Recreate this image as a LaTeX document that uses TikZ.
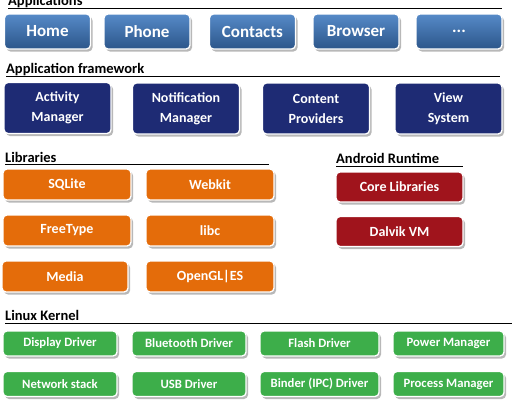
\documentclass[tikz,border=0pt]{standalone}
\usepackage{fontspec}
\setmainfont{Carlito}
\usepackage{xcolor}
\usepackage{tikz}
\usetikzlibrary{positioning, shadows}

\definecolor{appTop}{RGB}{86,138,200}
\definecolor{appBot}{RGB}{44,86,138}
\definecolor{fwkBlue}{RGB}{30,43,116}
\definecolor{libOrange}{RGB}{228,108,10}
\definecolor{rtRed}{RGB}{160,20,28}
\definecolor{kerGreen}{RGB}{61,174,74}

\begin{document}
\begin{tikzpicture}[
    x=1pt, y=-1pt,
    block/.style={rectangle, rounded corners=4pt, draw=white, line width=1.3pt, inner sep=0pt, align=center, text=white, font=\bfseries,
        drop shadow={shadow xshift=2pt, shadow yshift=-2.5pt, fill=black!35, opacity=0.8}},
    appbox/.style={block, top color=appTop, bottom color=appBot, minimum width=86pt, minimum height=35pt, font=\fontsize{17}{19}\selectfont\bfseries},
    fwkbox/.style={block, fill=fwkBlue, minimum width=107pt, minimum height=51pt, font=\fontsize{14}{20}\selectfont\bfseries},
    libbox/.style={block, fill=libOrange, minimum width=128pt, minimum height=31pt, font=\fontsize{14}{16}\selectfont\bfseries},
    rtbox/.style={block, fill=rtRed, minimum width=127pt, minimum height=30pt, font=\fontsize{14}{16}\selectfont\bfseries},
    kerbox/.style={block, fill=kerGreen, minimum width=114pt, minimum height=25pt, font=\fontsize{12.7}{14}\selectfont\bfseries},
    layer/.style={anchor=base west, inner sep=0pt, font=\fontsize{14.5}{16}\selectfont\bfseries},
    rule/.style={line width=0.8pt, black}
]
    \useasboundingbox (0,0) rectangle (516,408);
    % Applications
    \node[layer] (appsT) at (8,5) {Applications};
    \draw[rule] (8,8) -- (502,8);
    \node[appbox] (home) at (47.5,31.5) {Home};
    \node[appbox] (phone) at (147,31.5) {Phone};
    \node[appbox] (contacts) at (252.5,31.5) {Contacts};
    \node[appbox] (browser) at (356,31.5) {Browser};
    \node[appbox] (more) at (459,31.5) {...};
    % Application framework
    \node[layer] (fwkT) at (6,73) {Application framework};
    \draw[rule] (6,76) -- (500,76);
    \node[fwkbox] (activity) at (57.5,108) {Activity\\Manager};
    \node[fwkbox] (notif) at (186,108.5) {Notification\\Manager};
    \node[fwkbox] (content) at (316,108.5) {Content\\Providers};
    \node[fwkbox] (view) at (448.5,108.5) {View\\System};
    % Libraries
    \node[layer] (libT) at (5,162) {Libraries};
    \draw[rule] (5,164.5) -- (269,164.5);
    \node[libbox] (sqlite) at (67,184.5) {SQLite};
    \node[libbox] (webkit) at (210,184.5) {Webkit};
    \node[libbox] (freetype) at (67,230.5) {FreeType};
    \node[libbox] (libc) at (210,230.5) {libc};
    \node[libbox, minimum width=126pt] (media) at (65,276.5) {Media};
    \node[libbox] (opengl) at (210,276.5) {OpenGL|ES};
    % Android Runtime
    \node[layer] (rtT) at (336,163) {Android Runtime};
    \draw[rule] (336,166) -- (463,166);
    \node[rtbox] (corelib) at (399.5,187) {Core Libraries};
    \node[rtbox] (dalvik) at (399.5,231.5) {Dalvik VM};
    % Linux Kernel
    \node[layer] (kerT) at (5,320.5) {Linux Kernel};
    \draw[rule] (5,323) -- (512,323);
    \node[kerbox] (display) at (60,343.5) {Display Driver};
    \node[kerbox] (bluetooth) at (189,343.5) {Bluetooth Driver};
    \node[kerbox, minimum width=119pt] (flash) at (319.5,343.5) {Flash Driver};
    \node[kerbox, minimum width=111pt] (power) at (448.5,343.5) {Power Manager};
    \node[kerbox] (network) at (60,384) {Network stack};
    \node[kerbox] (usb) at (189,384) {USB Driver};
    \node[kerbox, minimum width=119pt] (binder) at (319.5,384) {Binder (IPC) Driver};
    \node[kerbox, minimum width=111pt] (process) at (448.5,384) {Process Manager};
\end{tikzpicture}
\end{document}
